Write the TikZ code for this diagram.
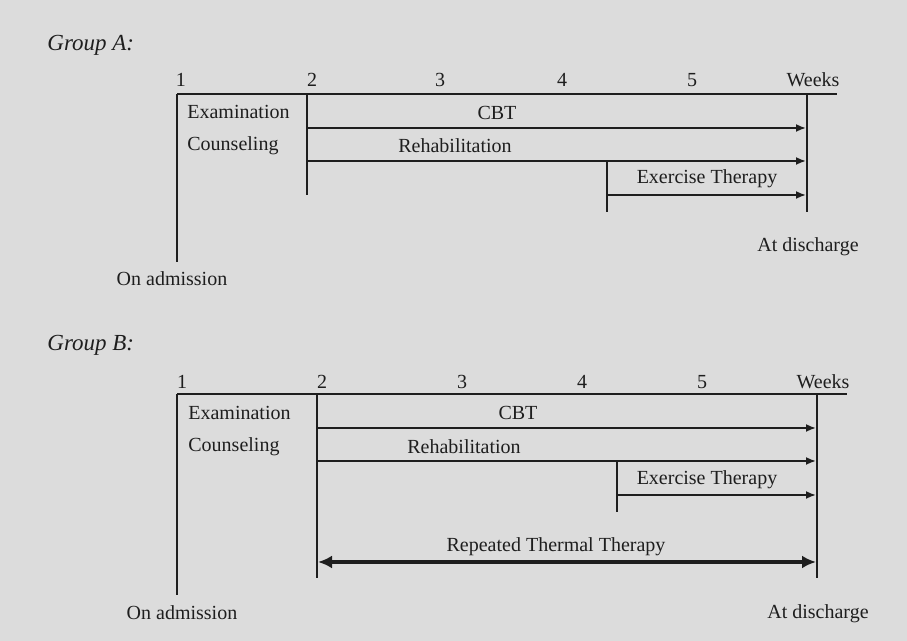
\documentclass[tikz,border=0pt]{standalone}
\usepackage{fontspec}
\setmainfont{Liberation Serif}
\usetikzlibrary{arrows.meta}
\definecolor{bgc}{HTML}{DCDCDC}
\definecolor{ink}{HTML}{1E1E1E}
\begin{document}
\begin{tikzpicture}[x=0.5pt,y=-0.5pt,
  txt/.style={inner sep=0pt,text=ink,font=\fontsize{10pt}{12pt}\selectfont},
  grp/.style={txt,anchor=west,font=\fontsize{11.5pt}{13pt}\selectfont\itshape},
  axis/.style={draw=ink,line width=0.9pt},
  period/.style={draw=ink,line width=0.9pt,-{Latex[length=5pt,width=4pt]}},
  thermal/.style={draw=ink,line width=2pt,{Latex[length=7pt,width=6.5pt]}-{Latex[length=7pt,width=6.5pt]}}]
\useasboundingbox[fill=bgc] (0,0) rectangle (907,641);

% ---------- Group A ----------
\node[grp] (ga) at (47,45) {Group A:};
\node[txt] (a1) at (181,80) {1};
\node[txt] (a2) at (312,80) {2};
\node[txt] (a3) at (440,80) {3};
\node[txt] (a4) at (562,80) {4};
\node[txt] (a5) at (692,80) {5};
\node[txt] (aw) at (813,80) {Weeks};
\node[txt,anchor=west] (aexam) at (187,112) {Examination};
\node[txt,anchor=west] (acoun) at (187,146) {Counseling};
\node[txt] (acbt) at (497,113) {CBT};
\node[txt] (areh) at (455,146) {Rehabilitation};
\node[txt] (aex) at (707,179) {Exercise Therapy};
\node[txt] (adis) at (808,247) {At discharge};
\node[txt] (aadm) at (172,279) {On admission};

\coordinate (aTL) at (177,94);
\coordinate (aTR) at (837,94);
\coordinate (aLB) at (177,262);
\coordinate (aV2t) at (307,94);
\coordinate (aV2b) at (307,195);
\coordinate (aCs) at (307,128);
\coordinate (aCe) at (806,128);
\coordinate (aRs) at (307,161);
\coordinate (aRe) at (806,161);
\coordinate (aVEt) at (607,161);
\coordinate (aVEb) at (607,212);
\coordinate (aEs) at (607,195);
\coordinate (aEe) at (806,195);
\coordinate (aVRt) at (807,94);
\coordinate (aVRb) at (807,212);

\draw[axis] (aTL) -- (aTR);
\draw[axis] (aTL) -- (aLB);
\draw[axis] (aV2t) -- (aV2b);
\draw[axis] (aVEt) -- (aVEb);
\draw[axis] (aVRt) -- (aVRb);
\draw[period] (aCs) -- (aCe);
\draw[period] (aRs) -- (aRe);
\draw[period] (aEs) -- (aEe);

% ---------- Group B ----------
\node[grp] (gb) at (47,345) {Group B:};
\node[txt] (b1) at (182,382) {1};
\node[txt] (b2) at (322,382) {2};
\node[txt] (b3) at (462,382) {3};
\node[txt] (b4) at (582,382) {4};
\node[txt] (b5) at (702,382) {5};
\node[txt] (bw) at (823,382) {Weeks};
\node[txt,anchor=west] (bexam) at (188,413) {Examination};
\node[txt,anchor=west] (bcoun) at (188,447) {Counseling};
\node[txt] (bcbt) at (518,413) {CBT};
\node[txt] (breh) at (464,447) {Rehabilitation};
\node[txt] (bex) at (707,480) {Exercise Therapy};
\node[txt] (bth) at (556,547) {Repeated Thermal Therapy};
\node[txt] (bdis) at (818,614) {At discharge};
\node[txt] (badm) at (182,613) {On admission};

\coordinate (bTL) at (177,394);
\coordinate (bTR) at (847,394);
\coordinate (bLB) at (177,595);
\coordinate (bV2t) at (317,394);
\coordinate (bV2b) at (317,578);
\coordinate (bCs) at (317,428);
\coordinate (bCe) at (816,428);
\coordinate (bRs) at (317,461);
\coordinate (bRe) at (816,461);
\coordinate (bVEt) at (617,461);
\coordinate (bVEb) at (617,512);
\coordinate (bEs) at (617,495);
\coordinate (bEe) at (816,495);
\coordinate (bVRt) at (817,394);
\coordinate (bVRb) at (817,578);
\coordinate (bTs) at (318,562);
\coordinate (bTe) at (816,562);

\draw[axis] (bTL) -- (bTR);
\draw[axis] (bTL) -- (bLB);
\draw[axis] (bV2t) -- (bV2b);
\draw[axis] (bVEt) -- (bVEb);
\draw[axis] (bVRt) -- (bVRb);
\draw[period] (bCs) -- (bCe);
\draw[period] (bRs) -- (bRe);
\draw[period] (bEs) -- (bEe);
\draw[thermal] (bTs) -- (bTe);
\end{tikzpicture}
\end{document}
